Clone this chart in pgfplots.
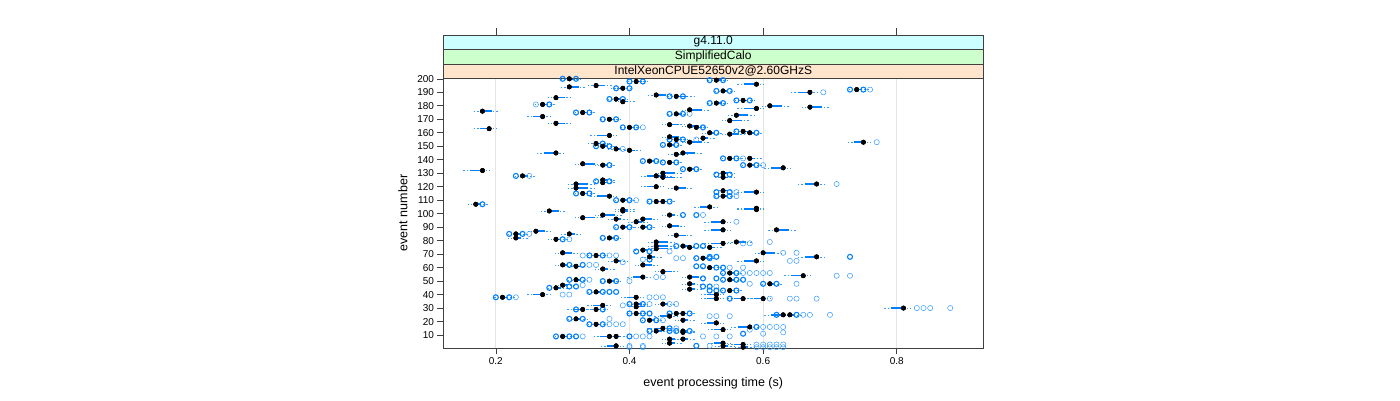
\documentclass[border=0pt]{standalone}
\usepackage{fontspec}
\setmainfont{Liberation Sans}
\usepackage{pgfplots}
\usepackage{pgfplotstable}
\pgfplotsset{compat=1.18}
\definecolor{lblue}{HTML}{0080FF}
\definecolor{stripA}{HTML}{FFE5CC}
\definecolor{stripB}{HTML}{CCFFCC}
\definecolor{stripC}{HTML}{CCFFFF}
\newcommand{\fs}{\fontsize{10}{12}\selectfont}
\newcommand{\fl}{\fontsize{12.5}{15}\selectfont}
\newcommand{\fst}{\fontsize{12}{14}\selectfont}

% medians with box extents (minus / plus)
\pgfplotstableread{
x y m p
0.31 200 0 0.008
0.41 198 0 0.008
0.53 199 0 0.008
0.35 195 0 0.014
0.31 194 0 0.014
0.39 193 0.008 0
0.59 196 0.018 0
0.74 192 0 0.008
0.67 190 0.018 0
0.54 191 0 0.008
0.44 188 0 0.014
0.47 187 0 0.018
0.29 186 0 0.014
0.38 185 0 0.008
0.39 183 0 0.008
0.53 182 0 0.008
0.57 184 0 0.008
0.27 181 0 0.008
0.61 180 0 0.018
0.67 179 0 0.018
0.59 178 0.018 0
0.18 176 0 0.014
0.33 175 0 0.008
0.49 177 0 0.018
0.56 173 0 0.018
0.47 174 0 0.008
0.27 172 0.014 0
0.37 170 0 0.008
0.55 169 0 0.018
0.29 167 0 0.014
0.46 166 0 0.014
0.49 165 0 0.014
0.50 164 0 0.008
0.19 163 0.014 0
0.40 164 0 0.008
0.57 161 0 0.008
0.58 160 0 0.008
0.55 159 0 0.014
0.52 160 0 0.008
0.37 158 0.018 0
0.46 157 0 0.014
0.47 155 0 0.008
0.51 156 0 0.008
0.75 153 0.014 0
0.35 152 0 0.008
0.49 153 0 0.018
0.46 151 0 0.008
0.36 150 0 0.008
0.38 148 0 0.008
0.40 147 0 0.008
0.29 145 0.018 0
0.33 137 0 0.018
0.36 136 0 0.008
0.18 132 0.018 0
0.24 128 0 0.008
0.36 125 0 0.008
0.36 123 0 0.008
0.32 122 0 0.018
0.32 119 0 0.018
0.33 115 0 0.008
0.37 113 0.018 0
0.39 110 0 0.008
0.17 107 0 0.008
0.43 139 0 0.008
0.46 138 0 0.008
0.47 144 0 0.008
0.48 145 0 0.018
0.44 128 0.014 0.014
0.45 130 0 0.018
0.45 127 0 0.018
0.49 133 0 0.008
0.44 120 0.014 0
0.47 119 0 0.014
0.44 109 0 0.008
0.45 109 0 0.008
0.39 103 0 0.008
0.55 141 0 0.008
0.58 141 0 0.008
0.58 136 0 0.008
0.63 134 0.018 0
0.54 130 0 0.008
0.54 127 0 0.008
0.68 122 0.018 0
0.54 117 0 0.008
0.54 113 0 0.008
0.59 116 0.018 0
0.59 104 0.018 0
0.28 102 0 0.014
0.33 97 0 0.018
0.36 99 0 0.018
0.39 102 0 0.008
0.38 96 0 0.008
0.42 96 0 0.014
0.41 94 0 0.008
0.46 99 0 0.008
0.52 105 0.014 0
0.46 91 0 0.014
0.39 90 0 0.008
0.42 90 0 0.008
0.23 85 0 0.008
0.26 87 0 0.014
0.23 82 0 0.008
0.31 85 0 0.008
0.29 81 0 0.008
0.37 82 0 0.008
0.47 84 0 0.014
0.44 79 0 0.018
0.44 76 0 0.018
0.44 74 0 0.018
0.48 76 0 0.008
0.49 75 0 0.008
0.52 75 0 0.008
0.30 71 0 0.014
0.35 69 0 0.008
0.42 73 0 0.008
0.43 68 0 0.008
0.51 67 0 0.008
0.30 62 0 0.008
0.32 61 0 0.008
0.38 65 0 0.008
0.42 62 0 0.014
0.36 59 0 0.008
0.45 57 0 0.014
0.52 60 0 0.008
0.49 53 0 0.014
0.59 103 0.018 0
0.54 94 0.018 0
0.54 88 0.018 0
0.62 88 0 0.018
0.54 78 0.018 0
0.56 79 0 0.014
0.60 71 0 0.018
0.59 65 0.018 0
0.68 68 0.018 0
0.55 56 0 0.008
0.66 54 0.018 0
0.32 51 0 0.008
0.37 50 0 0.008
0.42 53 0.014 0
0.29 45 0 0.008
0.30 47 0 0.008
0.49 48 0 0.008
0.49 44 0 0.008
0.35 42 0 0.008
0.27 40 0.014 0
0.21 38 0 0.008
0.41 38 0.014 0
0.41 33 0 0.008
0.45 33 0 0.008
0.36 32 0.014 0
0.41 31 0 0.008
0.33 29 0.014 0
0.35 29 0 0.008
0.41 26 0 0.008
0.47 26 0 0.008
0.48 26 0 0.008
0.46 24 0.014 0
0.32 22 0 0.008
0.43 21 0 0.008
0.48 21 0 0.008
0.35 18 0 0.008
0.45 15 0.014 0
0.44 13 0 0.008
0.48 13 0 0.008
0.30 9 0 0.008
0.37 9 0.014 0
0.38 9 0 0.008
0.46 7 0 0.008
0.48 7 0 0.008
0.38 2 0.014 0
0.55 51 0 0.008
0.61 48 0 0.008
0.55 43 0 0.008
0.53 40 0.014 0
0.53 37 0.014 0
0.57 37 0.014 0
0.60 37 0.014 0
0.81 30 0.018 0
0.63 25 0.018 0
0.64 25 0 0.008
0.53 19 0.014 0
0.58 16 0.018 0
0.54 14 0.014 0
0.54 4 0.014 0
0.57 3 0.014 0
0.46 4 0 0.008
0.48 12 0 0.008
0.54 2 0 0.008
0.57 1 0 0.008
}\medtab

% repeated (overlapping) outliers
\pgfplotstableread{
x y
0.30 200
0.32 200
0.40 198
0.42 198
0.52 199
0.54 199
0.38 193
0.40 193
0.73 192
0.75 192
0.53 191
0.55 191
0.46 187
0.48 187
0.37 185
0.39 185
0.52 182
0.54 182
0.56 184
0.58 184
0.28 181
0.32 175
0.34 175
0.46 174
0.48 174
0.36 170
0.38 170
0.51 164
0.39 164
0.41 164
0.56 161
0.59 160
0.53 160
0.46 155
0.48 155
0.36 152
0.35 150
0.37 150
0.37 136
0.23 128
0.35 124
0.37 124
0.32 115
0.34 115
0.38 110
0.40 110
0.18 107
0.45 151
0.47 151
0.42 139
0.44 139
0.45 138
0.47 138
0.48 133
0.50 133
0.43 109
0.46 109
0.54 141
0.56 141
0.57 136
0.59 136
0.53 129
0.55 129
0.53 116
0.55 116
0.53 113
0.55 113
0.48 99
0.50 99
0.38 90
0.40 90
0.43 90
0.22 85
0.24 85
0.30 81
0.36 82
0.38 82
0.47 76
0.50 76
0.51 76
0.41 72
0.43 72
0.34 69
0.36 69
0.50 67
0.52 67
0.43 66
0.31 62
0.33 62
0.50 61
0.51 61
0.73 68
0.53 60
0.54 60
0.54 56
0.56 56
0.52 68
0.53 68
0.31 51
0.33 51
0.36 50
0.38 50
0.51 52
0.53 52
0.28 45
0.31 46
0.32 46
0.51 46
0.52 46
0.34 42
0.36 42
0.37 42
0.38 42
0.20 38
0.22 38
0.40 33
0.42 33
0.36 29
0.32 29
0.40 26
0.42 26
0.43 26
0.46 26
0.49 26
0.31 22
0.33 22
0.42 21
0.44 21
0.34 18
0.36 18
0.46 15
0.43 13
0.46 13
0.47 13
0.49 13
0.29 9
0.31 9
0.32 9
0.40 9
0.54 51
0.56 51
0.57 51
0.60 48
0.62 48
0.52 43
0.53 43
0.54 43
0.56 43
0.55 37
0.62 25
0.65 25
0.59 16
0.57 11
0.50 2
}\boldtab

% single outliers
\pgfplotstableread{
x y
0.76 192
0.69 190
0.26 181
0.49 174
0.42 164
0.50 155
0.77 153
0.39 148
0.25 128
0.41 110
0.57 141
0.60 136
0.71 122
0.56 116
0.56 113
0.51 99
0.25 85
0.31 81
0.46 72
0.33 69
0.37 69
0.38 69
0.47 67
0.48 67
0.42 66
0.34 62
0.35 62
0.39 64
0.56 94
0.57 78
0.58 78
0.61 79
0.63 71
0.65 71
0.64 65
0.65 65
0.55 60
0.57 60
0.57 56
0.58 56
0.59 56
0.60 56
0.61 56
0.71 54
0.73 54
0.34 51
0.40 50
0.44 53
0.45 53
0.33 47
0.53 46
0.30 40
0.31 40
0.23 38
0.43 38
0.44 38
0.45 38
0.43 33
0.46 33
0.47 33
0.39 32
0.37 22
0.45 21
0.37 18
0.38 18
0.39 18
0.47 15
0.33 9
0.41 9
0.42 9
0.43 9
0.40 2
0.42 2
0.58 48
0.65 48
0.61 37
0.64 37
0.65 37
0.68 37
0.83 30
0.84 30
0.85 30
0.88 30
0.66 25
0.67 25
0.70 25
0.52 24
0.53 24
0.55 24
0.60 16
0.61 16
0.62 16
0.63 16
0.58 14
0.59 3
0.60 3
0.61 3
0.62 3
0.63 3
0.51 9
0.53 9
0.55 9
0.60 11
0.63 12
0.40 1
0.42 1
0.52 2
0.59 1
0.60 1
0.61 1
0.62 1
0.63 1
}\thintab

\begin{document}
\begin{tikzpicture}
\begin{axis}[name=ax, anchor=south west,
  scale only axis, width=539.5pt, height=270pt,
  xmin=0.1217, xmax=0.929, ymin=0.4, ymax=200.6,
  xtick={0.2,0.4,0.6,0.8},
  ytick={10,20,...,200},
  xtick pos=bottom, ytick pos=left, tick align=outside,
  major tick length=6pt,
  axis line style={black!75, line width=0.8pt},
  every tick/.style={black!75, line width=0.6pt},
  xmajorgrids, grid style={black!10, line width=0.8pt},
  tick label style={font=\fs},
  /pgf/number format/assume math mode=true,
  xticklabel style={/pgf/number format/.cd, fixed, precision=1},
  xlabel={event processing time (s)}, ylabel={event number},
  label style={font=\fl},
  xlabel style={at={(axis description cs:0.5,-0.1296)}, anchor=center},
  ylabel style={at={(axis description cs:-0.0751,0.5)}, anchor=center},
  clip=false,
]
% whiskers
\addplot[only marks, mark=none, forget plot,
  error bars/.cd, x dir=both, x explicit, error mark=none,
  error bar style={line width=0.5pt, lblue!80, dash pattern=on 1.5pt off 2pt}]
  table[x=x, y=y, x error minus expr=\thisrow{m}+0.012, x error plus expr=\thisrow{p}+0.012]{\medtab};
% boxes
\addplot[only marks, mark=none, forget plot,
  error bars/.cd, x dir=both, x explicit, error mark=none,
  error bar style={line width=1.5pt, lblue}]
  table[x=x, y=y, x error minus=m, x error plus=p]{\medtab};
\addplot[only marks, mark=o, mark size=2.6pt, mark options={lblue!80, line width=0.5pt}] table[x=x,y=y]{\thintab};
\addplot[only marks, mark=o, mark size=2.5pt, mark options={lblue, line width=1.1pt}] table[x=x,y=y]{\boldtab};
\addplot[only marks, mark=*, mark size=2.3pt, mark options={black, fill=black}] table[x=x,y=y]{\medtab};
% strips
\draw[black!75, line width=0.8pt, fill=stripA] (rel axis cs:0,1) rectangle (rel axis cs:1,1.0519);
\draw[black!75, line width=0.8pt, fill=stripB] (rel axis cs:0,1.0519) rectangle (rel axis cs:1,1.1074);
\draw[black!75, line width=0.8pt, fill=stripC] (rel axis cs:0,1.1074) rectangle (rel axis cs:1,1.1593);
\node[font=\fst] at (rel axis cs:0.5,1.0259) {IntelXeonCPUE52650v2@2.60GHzS};
\node[font=\fst] at (rel axis cs:0.5,1.0797) {SimplifiedCalo};
\node[font=\fst] at (rel axis cs:0.5,1.1333) {g4.11.0};
% top ticks
\draw[black!75, line width=0.6pt] (axis cs:0.2,232.5) -- (axis cs:0.2,238);
\draw[black!75, line width=0.6pt] (axis cs:0.4,232.5) -- (axis cs:0.4,238);
\draw[black!75, line width=0.6pt] (axis cs:0.6,232.5) -- (axis cs:0.6,238);
\draw[black!75, line width=0.6pt] (axis cs:0.8,232.5) -- (axis cs:0.8,238);
\end{axis}
\useasboundingbox ([xshift=-443.5pt,yshift=-52pt]ax.south west) rectangle ([xshift=956.5pt,yshift=348pt]ax.south west);
\end{tikzpicture}
\end{document}
